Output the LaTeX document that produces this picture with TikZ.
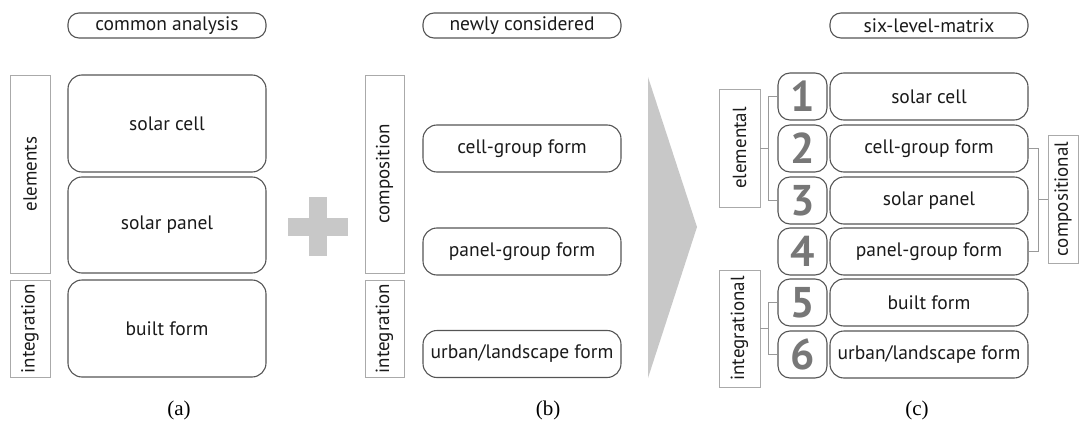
\documentclass[tikz,border=0pt]{standalone}
\usepackage{fontspec}
\setmainfont{PT Sans}
\newfontfamily\capfont{Liberation Serif}
\usetikzlibrary{shapes.misc}
\definecolor{boxline}{HTML}{555555}
\definecolor{lblline}{HTML}{AAAAAA}
\definecolor{brk}{HTML}{999999}
\definecolor{txt}{HTML}{1A1A1A}
\definecolor{shapegray}{HTML}{C8C8C8}
\definecolor{digit}{HTML}{777777}
\tikzset{
  rbox/.style={draw=boxline, line width=1.1pt, rounded corners=14pt, text=txt,
    font=\fontsize{19.5}{22}\selectfont, inner sep=0pt},
  hdr/.style={draw=boxline, line width=1.1pt, rounded corners=11pt, text=txt,
    minimum width=198pt, minimum height=25pt, font=\fontsize{19.5}{22}\selectfont, inner sep=0pt},
  lbl/.style={draw=lblline, line width=0.9pt, text=txt, inner sep=0pt,
    font=\fontsize{19}{21}\selectfont},
  numbox/.style={draw=boxline, line width=1.1pt, rounded corners=12pt, text=digit,
    minimum width=49pt, minimum height=47pt, inner sep=0pt,
    font=\fontsize{43}{45}\selectfont\bfseries},
  brkline/.style={draw=brk, line width=0.9pt},
  captext/.style={font=\capfont\fontsize{21}{23}\selectfont, text=black}
}
\begin{document}
\begin{tikzpicture}[x=1pt,y=-1pt]
\useasboundingbox (0,0) rectangle (1079,428);
% headers
\node[hdr] (ha) at (167,25.5) {common analysis};
\node[hdr] (hb) at (522,25.5) {newly considered};
\node[hdr] (hc) at (929,25.5) {six-level-matrix};
% panel (a)
\node[lbl, minimum width=40pt, minimum height=198pt] (ael) at (30,174) {\rotatebox{90}{elements}};
\node[lbl, minimum width=40pt, minimum height=97pt] (aint) at (30,328.5) {\rotatebox{90}{integration}};
\node[rbox, minimum width=198pt, minimum height=97pt] (asc) at (167,123.5) {solar cell};
\node[rbox, minimum width=198pt, minimum height=96pt] (asp) at (167,225) {solar panel};
\node[rbox, minimum width=198pt, minimum height=97pt] (abf) at (167,328.5) {built form};
% plus
\fill[shapegray] (309,197) rectangle (327,256);
\fill[shapegray] (288,217.5) rectangle (348,235.5);
% panel (b)
\node[lbl, minimum width=39pt, minimum height=198pt] (bcomp) at (384.5,174) {\rotatebox{90}{composition}};
\node[lbl, minimum width=39pt, minimum height=97pt] (bint) at (384.5,328.5) {\rotatebox{90}{integration}};
\node[rbox, minimum width=198pt, minimum height=47pt] (bcg) at (522,148.5) {cell-group form};
\node[rbox, minimum width=198pt, minimum height=47pt] (bpg) at (522,251.5) {panel-group form};
\node[rbox, minimum width=198pt, minimum height=47pt] (bul) at (522,354) {urban/landscape form};
% arrow
\fill[shapegray] (648,77) -- (697,227) -- (648,378) -- cycle;
% panel (c)
\foreach \i/\y/\t in {1/96.5/{solar cell}, 2/148.5/{cell-group form}, 3/200.5/{solar panel},
    4/251.5/{panel-group form}, 5/302.5/{built form}, 6/354.5/{urban{/}landscape form}}{
  \node[numbox] (n\i) at (802.5,\y) {\i};
  \node[rbox, minimum width=198pt, minimum height=47pt] (t\i) at (929,\y) {\t};
}
\node[lbl, minimum width=41pt, minimum height=118pt] (cel) at (739.5,148) {\rotatebox{90}{elemental}};
\node[lbl, minimum width=41pt, minimum height=117pt] (cint) at (739.5,328.5) {\rotatebox{90}{integrational}};
\node[lbl, minimum width=30pt, minimum height=128pt] (ccomp) at (1063,199) {\rotatebox{90}{compositional}};
% brackets
\draw[brkline] (n1.west) -- ++(-9,0) |- (n3.west);
\draw[brkline] (cel.east) -- ++(9,0);
\draw[brkline] (n5.west) -- ++(-9,0) |- (n6.west);
\draw[brkline] (cint.east) -- ++(9,0);
\draw[brkline] (t2.east) -- ++(10,0) |- (t4.east);
\draw[brkline] (ccomp.west) -- ++(-10,0);
% captions
\node[captext] (capa) at (179,410) {(a)};
\node[captext] (capb) at (548,410) {(b)};
\node[captext] (capc) at (917,410) {(c)};
\end{tikzpicture}
\end{document}
